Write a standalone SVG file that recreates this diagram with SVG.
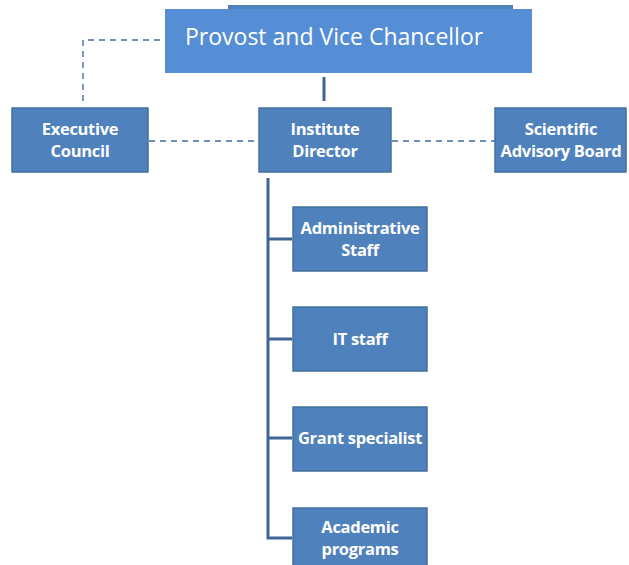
<svg xmlns="http://www.w3.org/2000/svg" width="629" height="565" viewBox="0 0 629 565">
<style>
.box{fill:#4f81bd;stroke:#41719c;stroke-width:1.5}
.lbl{font-family:"Open Sans","Liberation Sans",sans-serif;font-size:16.5px;font-weight:bold;fill:#ffffff;text-anchor:middle;letter-spacing:-0.3px}
.solid{stroke:#3f6495;stroke-width:3;fill:none}
.dash{stroke:#6f8fb8;stroke-width:1.8;fill:none;stroke-dasharray:6,5}
</style>
<rect width="629" height="565" fill="#ffffff"/>
<g id="connectors">
<polyline class="dash" points="83,101 83,40 165,40"/>
<line class="dash" x1="149" y1="141" x2="259" y2="141"/>
<line class="dash" x1="392" y1="141" x2="495" y2="141"/>
<line class="solid" x1="324" y1="77" x2="324" y2="101"/>
<polyline class="solid" points="268,178 268,538 292,538"/>
<line class="solid" x1="268" y1="239" x2="292" y2="239"/>
<line class="solid" x1="268" y1="339" x2="292" y2="339"/>
<line class="solid" x1="268" y1="438" x2="292" y2="438"/>
</g>
<g id="provost">
<rect x="228" y="5" width="285" height="10" fill="#4f81bd"/>
<rect x="165" y="9" width="367" height="64" fill="#558ed5"/>
<text x="185" y="45" font-family="'Open Sans','Liberation Sans',sans-serif" font-size="23" fill="#ffffff">Provost and Vice Chancellor</text>
</g>
<g id="executive">
<rect class="box" x="12" y="108" width="136" height="64"/>
<text class="lbl" x="80" y="135">Executive</text>
<text class="lbl" x="80" y="157">Council</text>
</g>
<g id="director">
<rect class="box" x="259" y="108" width="132" height="64"/>
<text class="lbl" x="325" y="135">Institute</text>
<text class="lbl" x="325" y="157">Director</text>
</g>
<g id="scientific">
<rect class="box" x="495" y="108" width="131" height="64"/>
<text class="lbl" x="561" y="135">Scientific</text>
<text class="lbl" x="561" y="157">Advisory Board</text>
</g>
<g id="admin">
<rect class="box" x="293" y="207" width="134" height="64"/>
<text class="lbl" x="360" y="234">Administrative</text>
<text class="lbl" x="360" y="256">Staff</text>
</g>
<g id="it">
<rect class="box" x="293" y="307" width="134" height="64"/>
<text class="lbl" x="360" y="345">IT staff</text>
</g>
<g id="grant">
<rect class="box" x="293" y="407" width="134" height="64"/>
<text class="lbl" x="360" y="444">Grant specialist</text>
</g>
<g id="academic">
<rect class="box" x="293" y="508" width="134" height="64"/>
<text class="lbl" x="360" y="533">Academic</text>
<text class="lbl" x="360" y="555">programs</text>
</g>
</svg>
